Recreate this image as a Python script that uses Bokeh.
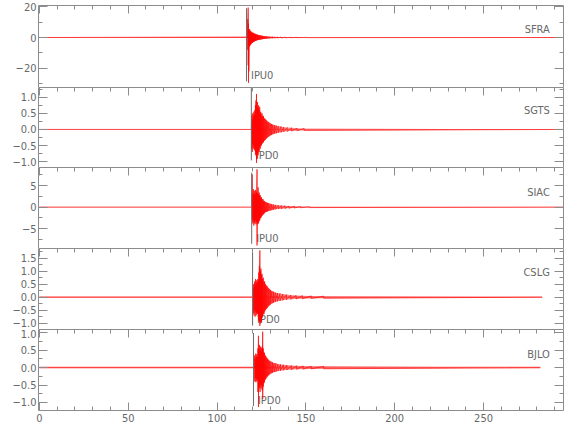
from bokeh.plotting import figure
from bokeh.models import Range1d, FixedTicker, LinearAxis
from bokeh.layouts import column
from bokeh.embed import file_html
from bokeh.resources import INLINE
from bokeh.core.properties import value

# ---------------- data ----------------
stations = ["SFRA", "SGTS", "SIAC", "CSLG", "BJLO"]
phases = ["IPU0", "IPD0", "IPU0", "IPD0", "IPD0"]
pick_times = [116.6, 119.3, 119.5, 120.0, 120.5]
# background noise half-amplitude of each trace
noise_amp = [0.3, 0.012, 0.1, 0.035, 0.03]

# oscillation extremes of each trace (time, upper, lower)
sfra_t = [0, 117.1, 117.3, 117.5, 117.7, 117.9, 118.1, 118.3, 118.5, 118.7, 118.9, 119.1, 119.3, 119.6,
          119.9, 120.2, 120.5, 120.8, 121.1, 121.4, 121.7, 122.0, 122.4, 122.8, 123.2, 123.6, 124.0,
          124.5, 125.0, 125.5, 126.0, 126.6, 127.2, 127.9, 128.6, 129.4, 130.3, 131.3, 132.5, 134,
          136, 138.5, 141.5, 145, 150, 295]
sfra_hi = [0, 0.3, 12, 19.5, 9, 5, 4, 5.5, 3.5, 4.5, 3.2, 4, 3, 3.6, 2.8, 3.2, 2.6, 2.8, 2.2, 2.5,
           2.0, 2.1, 1.8, 1.9, 1.6, 1.5, 1.4, 1.3, 1.2, 1.1, 1.0, 0.9, 0.8, 0.75, 0.65, 0.6, 0.5, 0.45,
           0.4, 0.35, 0.28, 0.22, 0.16, 0.12, 0.08, 0]
sfra_lo = [0, -0.3, -8, -18, -29.5, -22, -6, -5, -5.5, -4, -4.8, -3.5, -4.2, -3.2, -3.6, -2.8, -3.0,
           -2.5, -2.6, -2.2, -2.1, -1.9, -1.9, -1.7, -1.6, -1.5, -1.4, -1.3, -1.2, -1.1, -1.0, -0.9,
           -0.8, -0.75, -0.65, -0.6, -0.5, -0.45, -0.4, -0.35, -0.28, -0.22, -0.16, -0.12, -0.08, 0]

sgts_t = [0, 119.3, 119.5, 119.8, 120.1, 120.4, 120.7, 121.0, 121.3, 121.6, 121.9, 122.2, 122.5, 122.8,
          123.1, 123.4, 123.7, 124.0, 124.3, 124.6, 124.9, 125.3, 125.7, 126.1, 126.5, 127.0, 127.5,
          128.0, 128.6, 129.2, 129.9, 130.6, 131.4, 132.3, 133.3, 134.5, 136, 137.5, 139.5, 142, 145,
          149, 295]
sgts_hi = [0, 0, 0.45, 0.3, 0.5, 0.4, 0.55, 0.45, 0.6, 0.75, 0.9, 1.1, 0.7, 0.85, 0.65, 0.75, 0.6,
           0.7, 0.5, 0.55, 0.45, 0.5, 0.4, 0.42, 0.35, 0.33, 0.3, 0.27, 0.24, 0.22, 0.19, 0.17, 0.15,
           0.13, 0.12, 0.1, 0.09, 0.07, 0.06, 0.05, 0.04, 0.03, 0]
sgts_lo = [0, 0, -0.6, -0.7, -0.45, -0.6, -0.5, -0.65, -0.6, -0.8, -0.7, -1.04, -0.9, -0.75, -0.8,
           -0.65, -0.7, -0.55, -0.6, -0.5, -0.5, -0.45, -0.42, -0.4, -0.36, -0.33, -0.3, -0.27, -0.24,
           -0.22, -0.19, -0.17, -0.15, -0.13, -0.12, -0.1, -0.09, -0.07, -0.06, -0.05, -0.04, -0.03, 0]

siac_t = [0, 119.5, 119.8, 120.1, 120.4, 120.7, 121.0, 121.3, 121.6, 121.9, 122.2, 122.5, 122.8, 123.1,
          123.4, 123.7, 124.0, 124.3, 124.6, 125.0, 125.4, 125.8, 126.2, 126.7, 127.2, 127.8, 128.4,
          129.1, 129.9, 130.8, 131.8, 133, 134.5, 136.2, 138.2, 140.5, 143.5, 147, 152, 295]
siac_hi = [0, 0, 7.6, 3.0, 4.2, 3.2, 3.8, 2.8, 4.0, 3.0, 3.6, 8.8, 3.2, 4.6, 3.0, 3.4, 2.6, 2.8, 2.2,
           2.3, 1.8, 1.9, 1.5, 1.4, 1.2, 1.1, 1.0, 0.9, 0.8, 0.7, 0.6, 0.5, 0.45, 0.4, 0.32, 0.26,
           0.2, 0.14, 0.1, 0]
siac_lo = [0, 0, -2.8, -3.8, -3.2, -4.3, -3.5, -3.8, -3.0, -4.0, -3.4, -8.9, -4.0, -3.5, -3.8, -3.0,
           -3.2, -2.5, -2.6, -2.2, -2.0, -1.8, -1.6, -1.4, -1.2, -1.1, -1.0, -0.9, -0.8, -0.7, -0.6,
           -0.5, -0.45, -0.4, -0.32, -0.26, -0.2, -0.14, -0.1, 0]

cslg_t = [0, 120.2, 120.5, 120.8, 121.1, 121.4, 121.7, 122.0, 122.3, 122.6, 122.9, 123.2, 123.5, 123.8,
          124.1, 124.4, 124.7, 125.0, 125.3, 125.6, 126.0, 126.4, 126.8, 127.2, 127.7, 128.2, 128.8,
          129.4, 130.1, 130.9, 131.8, 132.8, 134, 135.4, 137, 139, 141.5, 144.5, 148, 153, 160, 283]
cslg_hi = [0, 0, 0.5, 0.35, 0.6, 0.45, 0.7, 0.5, 0.65, 0.55, 0.7, 0.6, 0.95, 1.2, 1.8, 1.0, 1.1, 0.85,
           0.9, 0.7, 0.75, 0.6, 0.6, 0.5, 0.45, 0.42, 0.36, 0.32, 0.28, 0.24, 0.21, 0.18, 0.16, 0.14,
           0.12, 0.1, 0.08, 0.07, 0.06, 0.05, 0.04, 0]
cslg_lo = [0, 0, -0.6, -0.7, -0.5, -0.75, -0.55, -0.7, -0.6, -0.65, -0.6, -0.75, -0.9, -0.95, -1.1,
           -1.0, -0.9, -0.95, -0.8, -0.75, -0.65, -0.65, -0.55, -0.5, -0.45, -0.42, -0.36, -0.32,
           -0.28, -0.24, -0.21, -0.18, -0.16, -0.14, -0.12, -0.1, -0.08, -0.07, -0.06, -0.05, -0.04, 0]

bjlo_t = [0, 120.9, 121.2, 121.5, 121.8, 122.1, 122.4, 122.7, 123.0, 123.3, 123.6, 123.9, 124.2, 124.5,
          124.8, 125.1, 125.4, 125.7, 126.0, 126.3, 126.7, 127.1, 127.5, 128.0, 128.5, 129.1, 129.7,
          130.4, 131.2, 132.1, 133.1, 134.3, 135.7, 137.3, 139.3, 141.8, 144.8, 148.5, 153, 160, 282]
bjlo_hi = [0, 0, 0.35, 0.25, 0.4, 0.3, 0.38, 0.3, 0.55, 0.91, 0.5, 0.65, 0.5, 0.6, 0.45, 0.55, 0.6,
           1.03, 0.55, 0.45, 0.42, 0.35, 0.32, 0.28, 0.25, 0.22, 0.19, 0.17, 0.15, 0.13, 0.12, 0.1,
           0.09, 0.08, 0.07, 0.06, 0.05, 0.045, 0.04, 0.035, 0]
bjlo_lo = [0, 0, -0.4, -0.3, -0.42, -0.32, -0.4, -0.35, -0.7, -1.13, -0.6, -0.55, -0.7, -0.5, -0.6,
           -0.5, -0.65, -0.9, -0.55, -0.45, -0.42, -0.35, -0.32, -0.28, -0.25, -0.22, -0.19, -0.17,
           -0.15, -0.13, -0.12, -0.1, -0.09, -0.08, -0.07, -0.06, -0.05, -0.045, -0.04, -0.035, 0]

traces = [(sfra_t, sfra_hi, sfra_lo), (sgts_t, sgts_hi, sgts_lo), (siac_t, siac_hi, siac_lo),
          (cslg_t, cslg_hi, cslg_lo), (bjlo_t, bjlo_hi, bjlo_lo)]

# axes
x_ticks = [0, 50, 100, 150, 200, 250]
x_minor = [0, 10, 20, 30, 40, 50, 60, 70, 80, 90, 100, 110, 120, 130, 140, 150, 160, 170, 180, 190,
           200, 210, 220, 230, 240, 250, 260, 270, 280, 290]
x_labels = ["0", "50", "100", "150", "200", "250"]

y_ranges = [(-32.5, 20.8), (-1.18, 1.3), (-9.6, 9.2), (-1.24, 1.87), (-1.23, 1.09)]
y_ticks = [[-20, 0, 20],
           [-1.0, -0.5, 0.0, 0.5, 1.0],
           [-5, 0, 5],
           [-1.0, -0.5, 0.0, 0.5, 1.0, 1.5],
           [-1.0, -0.5, 0.0, 0.5, 1.0]]
y_labels = [["\u221220", "0", "20"],
            ["\u22121.0", "\u22120.5", "0.0", "0.5", "1.0"],
            ["\u22125", "0", "5"],
            ["\u22121.0", "\u22120.5", "0.0", "0.5", "1.0", "1.5"],
            ["\u22121.0", "\u22120.5", "0.0", "0.5", "1.0"]]
y_minor = [[-30, -20, -10, 0, 10, 20],
           [-1.0, -0.75, -0.5, -0.25, 0.0, 0.25, 0.5, 0.75, 1.0, 1.25],
           [-7.5, -5, -2.5, 0, 2.5, 5, 7.5],
           [-1.0, -0.75, -0.5, -0.25, 0.0, 0.25, 0.5, 0.75, 1.0, 1.25, 1.5, 1.75],
           [-1.0, -0.75, -0.5, -0.25, 0.0, 0.25, 0.5, 0.75, 1.0]]

# ---------------- layout / style ----------------
FONT_NAME = "'DejaVu Sans Condensed', 'Liberation Sans', sans-serif"
FONT = value(FONT_NAME)
FONT_SIZE = "11px"
AXIS_COLOR = "#8c8c8c"
TEXT_COLOR = "#686868"
TRACE_COLOR = "#ff0000"
PICK_COLOR = "#6a6a6a"

frame_heights = [82, 80, 81, 81, 81]
pick_extent = [(19.0, -28.5), (1.3, -0.96), (8.0, -8.5), (1.73, -1.09), (0.99, -1.1)]
phase_label_y = [-25.0, -0.81, -7.25, -0.86, -0.94]
station_label_y = [5.2, 0.58, 3.4, 0.94, 0.37]
station_label_x = 287.3
phase_dx = 2.5


def style_axis(ax, show_labels, major_in, minor_in):
    ax.axis_line_color = AXIS_COLOR
    ax.major_tick_line_color = AXIS_COLOR
    ax.minor_tick_line_color = AXIS_COLOR
    ax.major_tick_in = major_in
    ax.major_tick_out = 0
    ax.minor_tick_in = minor_in
    ax.minor_tick_out = 0
    ax.major_label_text_color = TEXT_COLOR
    ax.major_label_text_font = FONT_NAME
    if show_labels:
        ax.major_label_text_font_size = FONT_SIZE
    else:
        ax.major_label_text_font_size = "0px"
        ax.major_label_standoff = 0
        ax.major_label_text_alpha = 0


panels = []
n = len(stations)
for i in range(n):
    last = i == n - 1
    p = figure(frame_width=525, frame_height=frame_heights[i],
               x_range=Range1d(-0.5, 295), y_range=Range1d(*y_ranges[i]),
               output_backend="svg", toolbar_location=None,
               min_border_left=38, min_border_right=10,
               min_border_top=5 if i == 0 else 0,
               min_border_bottom=15 if last else 0,
               x_axis_location="below" if last else None,
               y_axis_location="left")
    p.outline_line_color = None
    p.background_fill_color = "white"
    p.border_fill_color = "white"
    p.grid.visible = False

    xt = FixedTicker(ticks=x_ticks, minor_ticks=x_minor)
    yt = FixedTicker(ticks=y_ticks[i], minor_ticks=y_minor[i])

    left = p.left[0]
    left.ticker = yt
    left.major_label_overrides = dict(zip(y_ticks[i], y_labels[i]))
    style_axis(left, True, 9, 4)
    left.major_label_standoff = 2

    if last:
        bot = p.below[0]
        bot.ticker = xt
        bot.major_label_overrides = dict(zip(x_ticks, x_labels))
        style_axis(bot, True, 8, 4)
        bot.major_label_standoff = 3

    right = LinearAxis(ticker=yt)
    style_axis(right, False, 9, 4)
    p.add_layout(right, "right")

    top = LinearAxis(ticker=xt)
    style_axis(top, False, 8, 4)
    p.add_layout(top, "above")

    # phase label (drawn under the trace)
    p.text(x=[pick_times[i] + phase_dx], y=[phase_label_y[i]], text=[phases[i]],
           text_font=FONT, text_font_size=FONT_SIZE, text_color=TEXT_COLOR,
           text_align="left", text_baseline="alphabetic")
    # station label
    p.text(x=[station_label_x], y=[station_label_y[i]], text=[stations[i]],
           text_font=FONT, text_font_size=FONT_SIZE, text_color=TEXT_COLOR,
           text_align="right", text_baseline="alphabetic")

    t, hi, lo = traces[i]
    # background noise band over the whole record
    na = noise_amp[i]
    p.varea(x=[t[0], t[-1]], y1=[-na, -na], y2=[na, na], fill_color=TRACE_COLOR, fill_alpha=0.35)
    # signal envelope + oscillation strokes
    p.varea(x=t, y1=lo, y2=hi, fill_color=TRACE_COLOR, fill_alpha=0.45)
    zx = [tv for tv in t for _ in (0, 1)]
    zy = [v for pair in zip(hi, lo) for v in pair]
    p.line(zx, zy, line_color=TRACE_COLOR, line_width=0.8, line_alpha=0.8)

    # pick line
    p.segment(x0=[pick_times[i]], y0=[pick_extent[i][1]], x1=[pick_times[i]], y1=[pick_extent[i][0]],
              line_color=PICK_COLOR, line_width=1)

    panels.append(p)

layout = column(*panels, spacing=0)
open("out.html", "w").write(file_html(layout, INLINE))
